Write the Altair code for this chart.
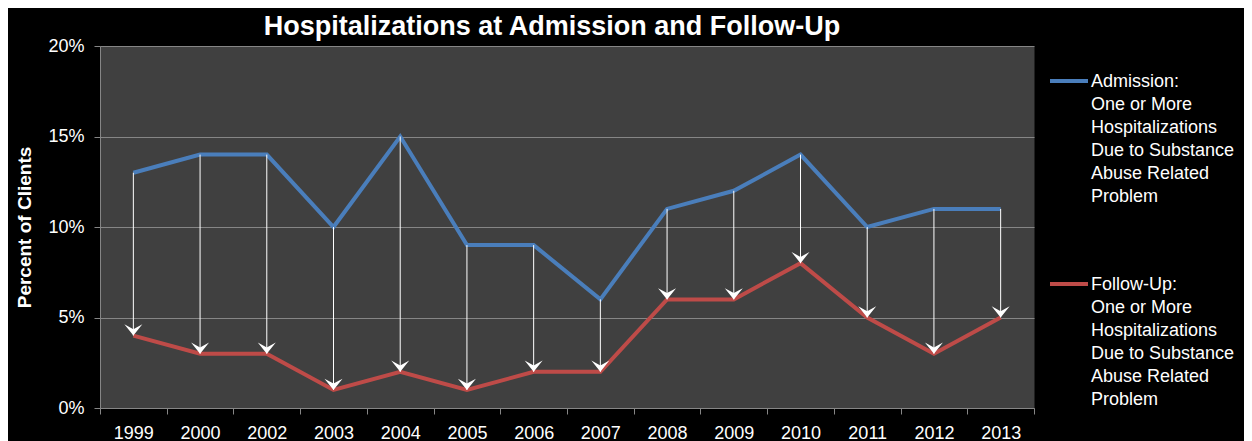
import altair as alt
import pandas as pd

years = ["1999", "2000", "2002", "2003", "2004", "2005", "2006", "2007",
         "2008", "2009", "2010", "2011", "2012", "2013"]
admission = [13, 14, 14, 10, 15, 9, 9, 6, 11, 12, 14, 10, 11, 11]
follow_up = [4, 3, 3, 1, 2, 1, 2, 2, 6, 6, 8, 5, 3, 5]
series_names = [
    "Admission:|One or More|Hospitalizations|Due to Substance|Abuse Related|Problem",
    "Follow-Up:|One or More|Hospitalizations|Due to Substance|Abuse Related|Problem",
]
series_colors = ["#4A7EBB", "#BE4B48"]
y_ticks = [0, 5, 10, 15, 20]

FONT = "Liberation Sans"
GRAY = "#868686"

long_df = pd.DataFrame({
    "year": years * 2,
    "pct": admission + follow_up,
    "series": [series_names[0]] * len(years) + [series_names[1]] * len(years),
})
wide_df = pd.DataFrame({"year": years, "adm": admission, "fu": follow_up})

x_enc = alt.X(
    "year:N", sort=years,
    scale=alt.Scale(type="band", paddingInner=0, paddingOuter=0),
    axis=alt.Axis(title=None, tickBand="extent", labelAngle=0, grid=False,
                  labelFontSize=18, labelColor="white", labelFont=FONT,
                  tickSize=6, tickColor=GRAY, domainColor=GRAY, labelPadding=10),
)
y_scale = alt.Scale(domain=[0, 20], nice=False)
y_axis = alt.Axis(values=y_ticks, labelExpr="datum.value + '%'",
                  title="Percent of Clients", titleFontSize=19, titleFont=FONT,
                  titleFontWeight="bold", titleColor="white", titlePadding=13,
                  labelFontSize=18, labelColor="white", labelFont=FONT,
                  labelPadding=10, tickSize=6, tickColor=GRAY, domainColor=GRAY,
                  grid=True, gridColor=GRAY, gridWidth=1)

lines = alt.Chart(long_df).mark_line(strokeWidth=4).encode(
    x=x_enc,
    y=alt.Y("pct:Q", scale=y_scale, axis=y_axis),
    color=alt.Color("series:N", sort=series_names,
                    scale=alt.Scale(domain=series_names, range=series_colors),
                    legend=alt.Legend(orient="none", legendX=948, legendY=6,
                                      title=None,
                                      symbolType="M-1,0.42L1,0.42",
                                      symbolSize=1444, symbolStrokeWidth=4,
                                      labelExpr="split(datum.label, '|')",
                                      labelFontSize=18, labelColor="white",
                                      labelFont=FONT, labelLimit=0, labelOffset=1,
                                      labelBaseline="top",
                                      rowPadding=49, padding=0)),
)

rules = alt.Chart(wide_df).mark_rule(color="white", strokeWidth=1).encode(
    x=x_enc,
    y=alt.Y("adm:Q", scale=y_scale, axis=y_axis),
    y2="fu:Q",
)

heads = alt.Chart(wide_df).mark_point(
    shape="M0,0L-1,-1.25L0,-0.7L1,-1.25Z", filled=True, color="white",
    size=324, opacity=1, strokeWidth=0,
).encode(
    x=x_enc,
    y=alt.Y("fu:Q", scale=y_scale, axis=y_axis),
)

chart = alt.layer(lines, rules, heads).properties(
    width=934, height=362,
    autosize=alt.AutoSizeParams(type="none"),
    padding={"left": 92, "top": 38, "right": 210, "bottom": 33},
    background="black",
    title=alt.TitleParams("Hospitalizations at Admission and Follow-Up",
                          fontSize=27, fontWeight="bold", color="white",
                          font=FONT, anchor="middle", dx=-15, offset=-4),
).configure(
    style={"guide-label": {"lineHeight": 23}}
).configure_view(fill="#404040", strokeOpacity=0)

chart.save("out.html", embed_options={"renderer": "svg", "actions": False})
